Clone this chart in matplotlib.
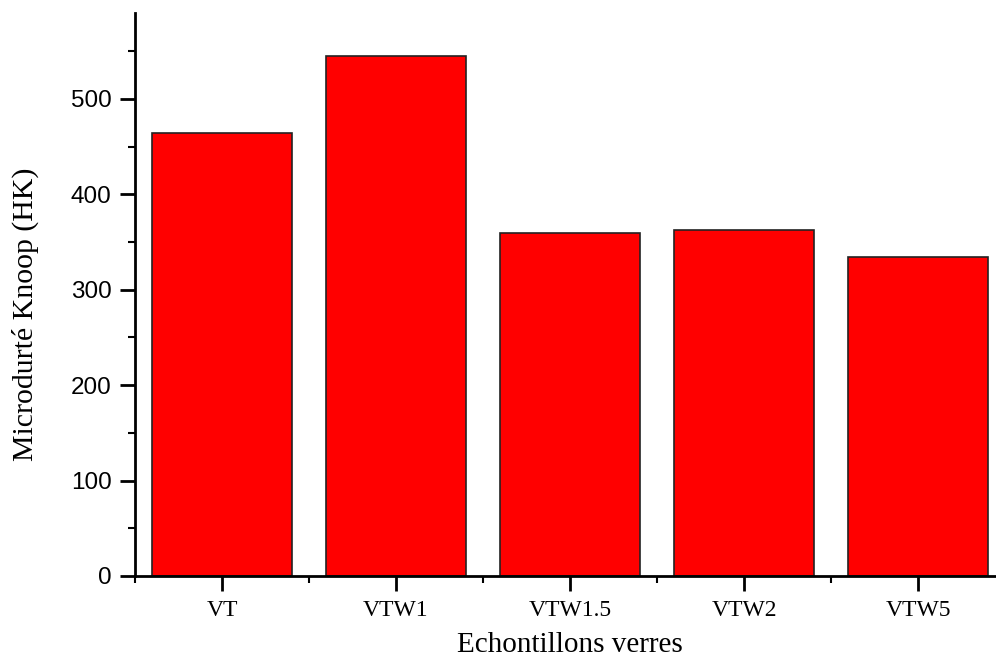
import numpy as np
import matplotlib.pyplot as plt
from matplotlib.ticker import MultipleLocator

# Knoop microhardness per glass sample
samples = ['VT', 'VTW1', 'VTW1.5', 'VTW2', 'VTW5']
hardness = [464, 545, 359, 363, 334]

fig = plt.figure(figsize=(9.96, 6.59), dpi=100)
ax = fig.add_axes([135 / 996, 83 / 659, 870 / 996, 563 / 659])

x = np.arange(len(samples))
ax.bar(x, hardness, width=0.8, color='#ff0000', edgecolor='#222222', linewidth=1.2)

ax.set_xlim(-0.5, 4.5)
ax.set_ylim(0, 590)

ax.spines['top'].set_visible(False)
ax.spines['right'].set_visible(False)
ax.spines['left'].set_linewidth(2)
ax.spines['bottom'].set_linewidth(2)

ax.set_xticks(x)
ax.set_xticklabels(samples, family='Liberation Serif', fontsize=17)
ax.xaxis.set_minor_locator(MultipleLocator(1, offset=0.5))
ax.yaxis.set_major_locator(MultipleLocator(100))
ax.yaxis.set_minor_locator(MultipleLocator(50))
for lbl in ax.get_yticklabels():
    lbl.set_family('Liberation Sans')
    lbl.set_fontsize(17.5)

ax.tick_params(which='major', direction='out', length=11, width=2, pad=6)
ax.tick_params(which='minor', direction='out', length=5, width=1.5)

ax.set_xlabel('Echontillons verres', family='Liberation Serif', fontsize=21, labelpad=8)
ax.set_ylabel('Microdurté Knoop (HK)', family='Liberation Serif', fontsize=21.5)
ax.yaxis.set_label_coords(-0.11, 0.465)

fig.savefig('out.png', dpi=100)
